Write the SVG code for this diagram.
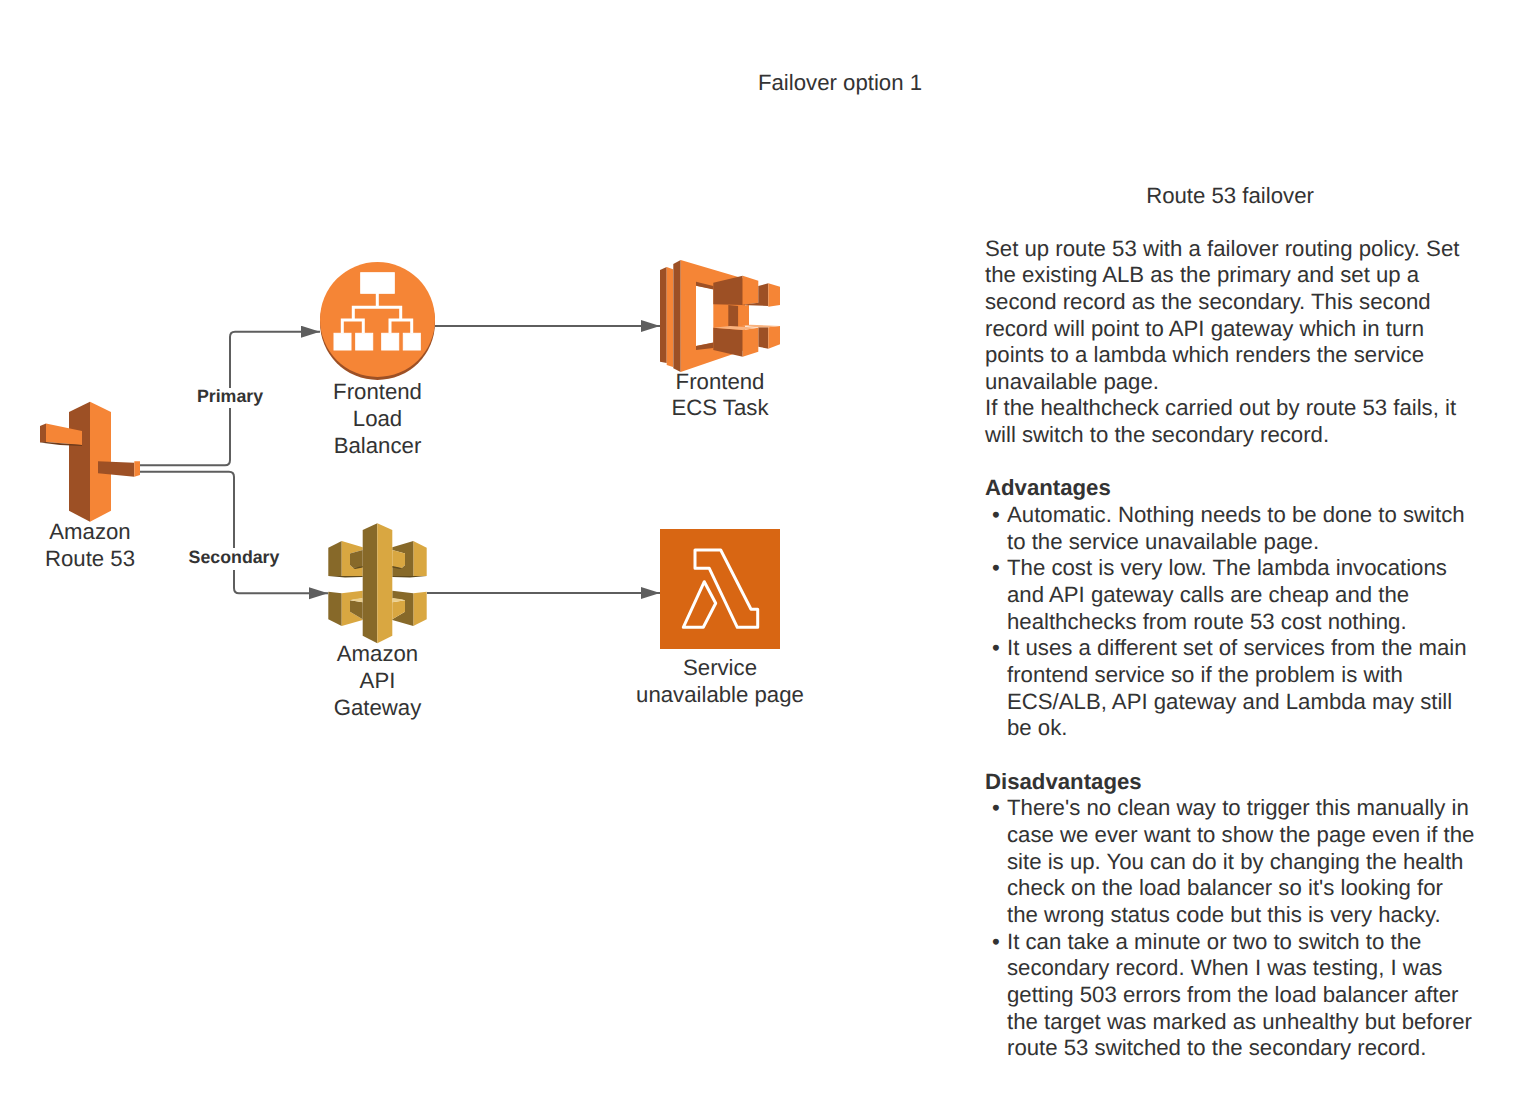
<svg xmlns="http://www.w3.org/2000/svg" width="1520" height="1110" viewBox="0 0 1520 1110">
<style>
text{font-family:"Liberation Sans",Arial,sans-serif;font-size:22.2px;fill:#333;text-rendering:geometricPrecision}
.c{text-anchor:middle}
.b{font-weight:bold}
.l{font-size:17.78px;font-weight:bold;text-anchor:middle}
.con{fill:none;stroke:#5e5e5e;stroke-width:2}
.ol{fill:#F58536}.od{fill:#9D5025}.oh{fill:#F9B27E}.os{fill:#6B3A1B}
.yl{fill:#D9A741}.yd{fill:#876929}.ys{fill:#5F4A1D}.yh{fill:#EBCF8E}
.w{fill:#fff;stroke:#fff;stroke-width:1}
.wl{fill:none;stroke:#fff;stroke-width:3}
</style>
<defs>
<marker id="arrow" markerUnits="userSpaceOnUse" markerWidth="20" markerHeight="14" refX="19" refY="6" orient="auto"><path d="M0,0L19,6L0,12z" fill="#5e5e5e"/></marker>
</defs>
<rect width="1520" height="1110" fill="#fff"/>
<g id="connectors">
<path class="con" marker-end="url(#arrow)" d="M140,465.3H225Q230,465.3 230,460V337Q230,331.7 235,331.7H320"/>
<path class="con" marker-end="url(#arrow)" d="M140,471.7H229Q234,471.7 234,477V588Q234,593.3 239,593.3H328"/>
<path class="con" marker-end="url(#arrow)" d="M435,326H660"/>
<path class="con" marker-end="url(#arrow)" d="M427,593H660"/>
<rect x="195" y="388" width="70" height="20" fill="#fff"/>
<rect x="187" y="548" width="94" height="22" fill="#fff"/>
<text class="l" x="230" y="402">Primary</text>
<text class="l" x="234" y="563">Secondary</text>
</g>
<g id="route53">
<path class="od" d="M69,412L90,401.7V521.7L69,510.7z"/>
<path class="ol" d="M90,401.7L111,412V510.7L90,521.7z"/>
<path class="od" d="M40,426L46,423.5V442L40,442.5z"/>
<path class="ol" d="M46,423.5L82,431V445L46,442z"/>
<path class="os" d="M40,442.5L46,442L82,445L82,446L60,445z"/>
<path class="od" d="M98,461.3L134.3,462.7V476.7L98,473.3z"/>
<path class="ol" d="M134.3,461.3H140V475L134.3,476.7z"/>
<text class="c" x="90" y="539">Amazon</text>
<text class="c" x="90" y="566">Route 53</text>
</g>
<g id="load-balancer">
<circle class="od" cx="377.5" cy="322.5" r="57.5"/>
<circle class="ol" cx="377.5" cy="319.5" r="57.5"/>
<rect class="w" x="360.7" y="272.7" width="33.6" height="20.6"/>
<path class="wl" d="M377.3,293V307.3M353.3,320V307.3H400.7V320M342.3,333V320H363.3V333M390,333V320H411.7V333"/>
<rect class="w" x="334" y="333.3" width="17" height="16.7"/>
<rect class="w" x="355.7" y="333.3" width="17" height="16.7"/>
<rect class="w" x="381.7" y="333.3" width="17" height="16.7"/>
<rect class="w" x="403.3" y="333.3" width="17" height="16.7"/>
<text class="c" x="377.5" y="399">Frontend</text>
<text class="c" x="377.5" y="426">Load</text>
<text class="c" x="377.5" y="453">Balancer</text>
</g>
<g id="ecs-task">
<path class="od" d="M660,270L666.7,267V363L660,361.7z"/>
<path class="ol" d="M666.7,267L673,269.3V367L666.7,365z"/>
<path class="od" d="M673.3,264L680.7,260V372L673.3,368.3z"/>
<path class="ol" d="M680.7,260L745,279V350L680.7,372zM696,285.7V346L713.3,342.7V289z"/>
<path class="od" d="M696,281.7L713.3,286V289.5L696,285.7zM696,346L713.3,342.5V348L696,350z"/>
<path class="od" d="M728.3,305L738.3,306V326.7H728.3z"/>
<path class="ol" d="M738.3,306L749,305V325L738.3,326.7z"/>
<path class="od" d="M713.3,282.7L742.7,275.7V305L713.3,304.3z"/>
<path class="ol" d="M742.7,275.7L758.3,280.7V302.7L742.7,305z"/>
<path class="od" d="M758.3,286L768.3,283.3V306L741,305L758.3,302.7z"/>
<path class="ol" d="M768.3,283.3L780,286.7V305L768.3,306.7z"/>
<path class="od" d="M758.3,327.3H768.3V348.7L758.3,346.7z"/>
<path class="ol" d="M768.3,327.3L780,326V344.3L768.3,348.7z"/>
<path class="oh" d="M741.7,326L750,324.7L780,326L768.3,327.3H758z"/>
<path class="od" d="M713.3,327.7L742.7,330V356.7L713.3,350z"/>
<path class="ol" d="M742.7,330L758.3,327.7V351.7L742.7,356.7z"/>
<path class="oh" d="M713.3,327.7L730,326L758.3,327.7L742.7,330z"/>
<text class="c" x="720" y="389">Frontend</text>
<text class="c" x="720" y="415">ECS Task</text>
</g>
<g id="api-gateway">
<path class="yd" d="M328.3,547.7L341.7,541V576L328.3,576z"/>
<path class="yl" d="M341.7,541L362.7,547.3V550L350,553.5V565L353.3,568L362.7,566V576L341.7,576.7z"/>
<path class="yd" d="M350,553.5L362.7,550V566.5L353.3,568L350,565z"/>
<path class="ys" d="M353.3,568L362.7,566V567.5L355,569z"/>
<path class="ys" d="M328.3,576L341.7,576L362.7,576L362.7,577L345,577.5z"/>
<path class="yl" d="M426.7,547.7L413.3,541V576L426.7,576z"/>
<path class="yd" d="M413.3,541L392.3,547.3V550L405,553.5V565L401.7,568L392.3,566V576L413.3,576.7z"/>
<path class="yl" d="M405,553.5L392.3,550V566.5L401.7,568L405,565z"/>
<path class="ys" d="M401.7,568L392.3,566V567.5L400,569z"/>
<path class="ys" d="M426.7,576L413.3,576L392.3,576L392.3,577L410,577.5z"/>
<path class="yd" d="M328.3,591.7L341.7,593.3V626L328.3,619.3z"/>
<path class="yl" d="M341.7,593.3L362.7,590.7V598.3L350,600.3V611.7L362.7,619.3V620L341.7,626z"/>
<path class="yd" d="M350,600.3L362.7,602.3V619.3L350,611.7z"/>
<path class="yh" d="M350,600.3L353.3,599.3L362.7,598V602.3z"/>
<path class="yl" d="M426.7,591.7L413.3,593.3V626L426.7,619.3z"/>
<path class="yd" d="M413.3,593.3L392.3,590.7V598.3L405,600.3V611.7L392.3,619.3V620L413.3,626z"/>
<path class="yl" d="M405,600.3L392.3,602.3V619.3L405,611.7z"/>
<path class="yh" d="M405,600.3L401.7,599.3L392.3,598V602.3z"/>
<path class="yd" d="M362.7,530L377.3,523.3V643.3L362.7,635.7z"/>
<path class="yl" d="M377.3,523.3L392.3,530V635.7L377.3,643.3z"/>
<text class="c" x="377.5" y="661">Amazon</text>
<text class="c" x="377.5" y="688">API</text>
<text class="c" x="377.5" y="715">Gateway</text>
</g>
<g id="lambda">
<rect x="660" y="529" width="120" height="120" fill="#D86613"/>
<path fill="none" stroke="#fff" stroke-width="3" stroke-linejoin="round" d="M695,550H720.7L751,609.3H757.7V627.3H737.3L709.3,568.3H695zM704.3,581.7L715.7,603.3L703.3,627.3H683.3z"/>
<text class="c" x="720" y="675">Service</text>
<text class="c" x="720" y="702">unavailable page</text>
</g>
<g id="title"><text class="c" x="840" y="90">Failover option 1</text></g>
<g id="notes">
<text class="c" x="1230" y="203">Route 53 failover</text>
<text x="985" y="256">Set up route 53 with a failover routing policy. Set</text>
<text x="985" y="282">the existing ALB as the primary and set up a</text>
<text x="985" y="309">second record as the secondary. This second</text>
<text x="985" y="336">record will point to API gateway which in turn</text>
<text x="985" y="362">points to a lambda which renders the service</text>
<text x="985" y="389">unavailable page.</text>
<text x="985" y="415">If the healthcheck carried out by route 53 fails, it</text>
<text x="985" y="442">will switch to the secondary record.</text>
<text class="b" x="985" y="495">Advantages</text>
<text x="992" y="522">•</text><text x="1007" y="522">Automatic. Nothing needs to be done to switch</text>
<text x="1007" y="549">to the service unavailable page.</text>
<text x="992" y="575">•</text><text x="1007" y="575">The cost is very low. The lambda invocations</text>
<text x="1007" y="602">and API gateway calls are cheap and the</text>
<text x="1007" y="629">healthchecks from route 53 cost nothing.</text>
<text x="992" y="655">•</text><text x="1007" y="655">It uses a different set of services from the main</text>
<text x="1007" y="682">frontend service so if the problem is with</text>
<text x="1007" y="709">ECS/ALB, API gateway and Lambda may still</text>
<text x="1007" y="735">be ok.</text>
<text class="b" x="985" y="789">Disadvantages</text>
<text x="992" y="815">•</text><text x="1007" y="815">There's no clean way to trigger this manually in</text>
<text x="1007" y="842">case we ever want to show the page even if the</text>
<text x="1007" y="869">site is up. You can do it by changing the health</text>
<text x="1007" y="895">check on the load balancer so it's looking for</text>
<text x="1007" y="922">the wrong status code but this is very hacky.</text>
<text x="992" y="949">•</text><text x="1007" y="949">It can take a minute or two to switch to the</text>
<text x="1007" y="975">secondary record. When I was testing, I was</text>
<text x="1007" y="1002">getting 503 errors from the load balancer after</text>
<text x="1007" y="1029">the target was marked as unhealthy but beforer</text>
<text x="1007" y="1055">route 53 switched to the secondary record.</text>
</g>
</svg>
